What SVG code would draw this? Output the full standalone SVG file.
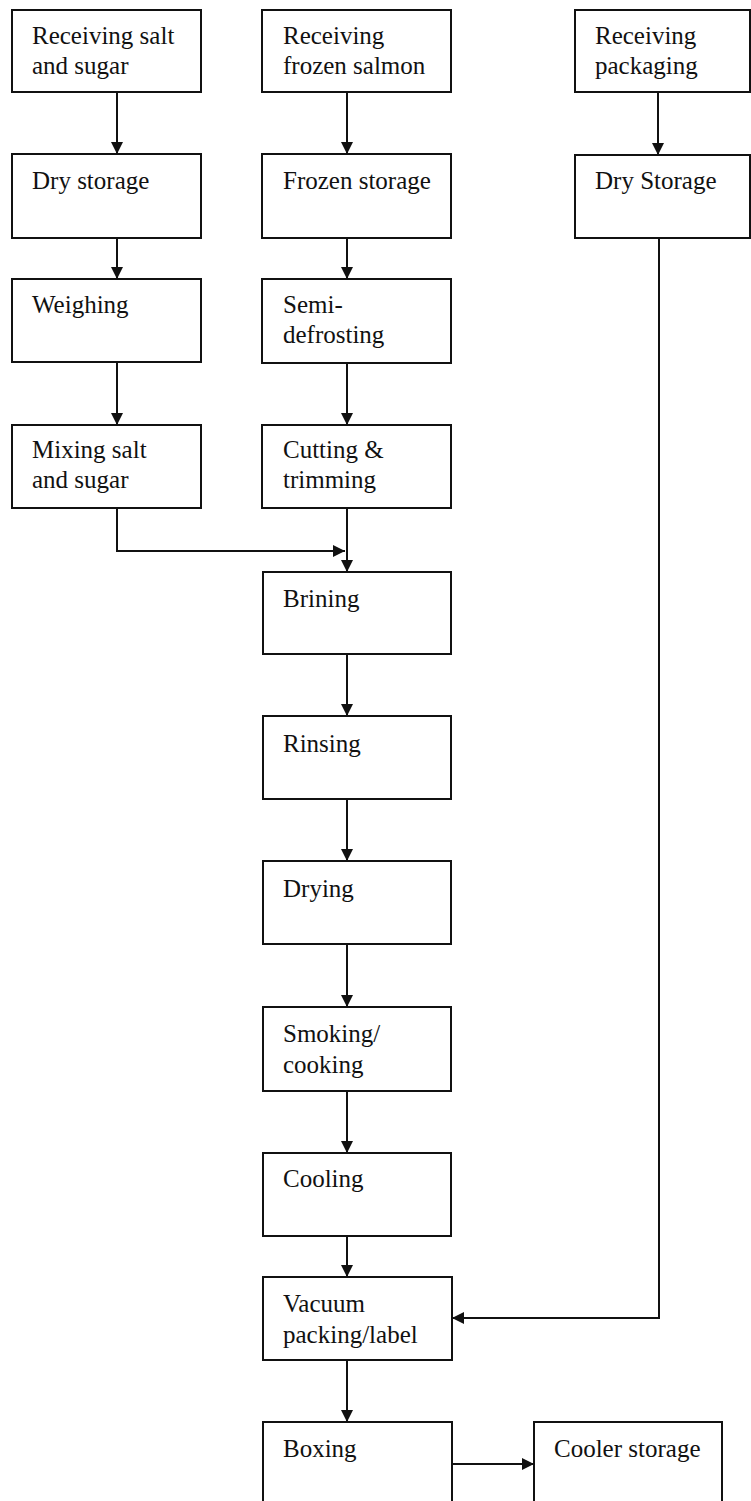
<svg xmlns="http://www.w3.org/2000/svg" width="751" height="1501" viewBox="0 0 751 1501">
  <style>
    .box { fill: #ffffff; stroke: #111111; stroke-width: 2; }
    .lbl { font-family: "Liberation Serif", "Times New Roman", serif; font-size: 25px; fill: #111111; }
    .edge { fill: none; stroke: #111111; stroke-width: 2; marker-end: url(#arrow); }
  </style>
  <defs>
    <marker id="arrow" viewBox="0 0 12 12" refX="12" refY="6" markerWidth="12" markerHeight="12" markerUnits="userSpaceOnUse" orient="auto">
      <path d="M0,0 L12,6 L0,12 z" fill="#111111"/>
    </marker>
  </defs>
  <rect width="751" height="1501" fill="#ffffff"/>

  <!-- connectors -->
  <g id="connectors">
    <path class="edge" d="M117,92 V154"/>
    <path class="edge" d="M347,92 V154"/>
    <path class="edge" d="M658,92 V155"/>
    <path class="edge" d="M117,238 V279"/>
    <path class="edge" d="M347,238 V279"/>
    <path class="edge" d="M117,362 V425"/>
    <path class="edge" d="M347,363 V425"/>
    <path class="edge" d="M117,508 V551 H345"/>
    <path class="edge" d="M347,508 V572"/>
    <path class="edge" d="M347,654 V716"/>
    <path class="edge" d="M347,799 V861"/>
    <path class="edge" d="M347,944 V1007"/>
    <path class="edge" d="M347,1091 V1153"/>
    <path class="edge" d="M347,1236 V1277"/>
    <path class="edge" d="M347,1360 V1422"/>
    <path class="edge" d="M659,238 V1318 H452"/>
    <path class="edge" d="M452,1464 H534"/>
  </g>

  <!-- left column -->
  <g id="recv-salt-sugar">
    <rect class="box" x="12" y="10" width="189" height="82"/>
    <text class="lbl" x="32" y="44">Receiving salt</text>
    <text class="lbl" x="32" y="74">and sugar</text>
  </g>
  <g id="dry-storage-1">
    <rect class="box" x="12" y="154" width="189" height="84"/>
    <text class="lbl" x="32" y="189">Dry storage</text>
  </g>
  <g id="weighing">
    <rect class="box" x="12" y="279" width="189" height="83"/>
    <text class="lbl" x="32" y="313">Weighing</text>
  </g>
  <g id="mixing">
    <rect class="box" x="12" y="425" width="189" height="83"/>
    <text class="lbl" x="32" y="458">Mixing salt</text>
    <text class="lbl" x="32" y="488">and sugar</text>
  </g>

  <!-- middle column -->
  <g id="recv-salmon">
    <rect class="box" x="262" y="10" width="189" height="82"/>
    <text class="lbl" x="283" y="44">Receiving</text>
    <text class="lbl" x="283" y="74">frozen salmon</text>
  </g>
  <g id="frozen-storage">
    <rect class="box" x="262" y="154" width="189" height="84"/>
    <text class="lbl" x="283" y="189">Frozen storage</text>
  </g>
  <g id="semi-defrosting">
    <rect class="box" x="262" y="279" width="189" height="84"/>
    <text class="lbl" x="283" y="313">Semi-</text>
    <text class="lbl" x="283" y="343">defrosting</text>
  </g>
  <g id="cutting">
    <rect class="box" x="262" y="425" width="189" height="83"/>
    <text class="lbl" x="283" y="458">Cutting &amp;</text>
    <text class="lbl" x="283" y="488">trimming</text>
  </g>
  <g id="brining">
    <rect class="box" x="263" y="572" width="188" height="82"/>
    <text class="lbl" x="283" y="607">Brining</text>
  </g>
  <g id="rinsing">
    <rect class="box" x="263" y="716" width="188" height="83"/>
    <text class="lbl" x="283" y="752">Rinsing</text>
  </g>
  <g id="drying">
    <rect class="box" x="263" y="861" width="188" height="83"/>
    <text class="lbl" x="283" y="897">Drying</text>
  </g>
  <g id="smoking">
    <rect class="box" x="263" y="1007" width="188" height="84"/>
    <text class="lbl" x="283" y="1042">Smoking/</text>
    <text class="lbl" x="283" y="1073">cooking</text>
  </g>
  <g id="cooling">
    <rect class="box" x="263" y="1153" width="188" height="83"/>
    <text class="lbl" x="283" y="1187">Cooling</text>
  </g>
  <g id="vacuum-packing">
    <rect class="box" x="263" y="1277" width="189" height="83"/>
    <text class="lbl" x="283" y="1312">Vacuum</text>
    <text class="lbl" x="283" y="1343">packing/label</text>
  </g>
  <g id="boxing">
    <rect class="box" x="263" y="1422" width="189" height="84"/>
    <text class="lbl" x="283" y="1457">Boxing</text>
  </g>

  <!-- right column -->
  <g id="recv-packaging">
    <rect class="box" x="575" y="10" width="175" height="82"/>
    <text class="lbl" x="595" y="44">Receiving</text>
    <text class="lbl" x="595" y="74">packaging</text>
  </g>
  <g id="dry-storage-2">
    <rect class="box" x="575" y="155" width="175" height="83"/>
    <text class="lbl" x="595" y="189">Dry Storage</text>
  </g>
  <g id="cooler-storage">
    <rect class="box" x="534" y="1422" width="188" height="84"/>
    <text class="lbl" x="554" y="1457">Cooler storage</text>
  </g>
</svg>
